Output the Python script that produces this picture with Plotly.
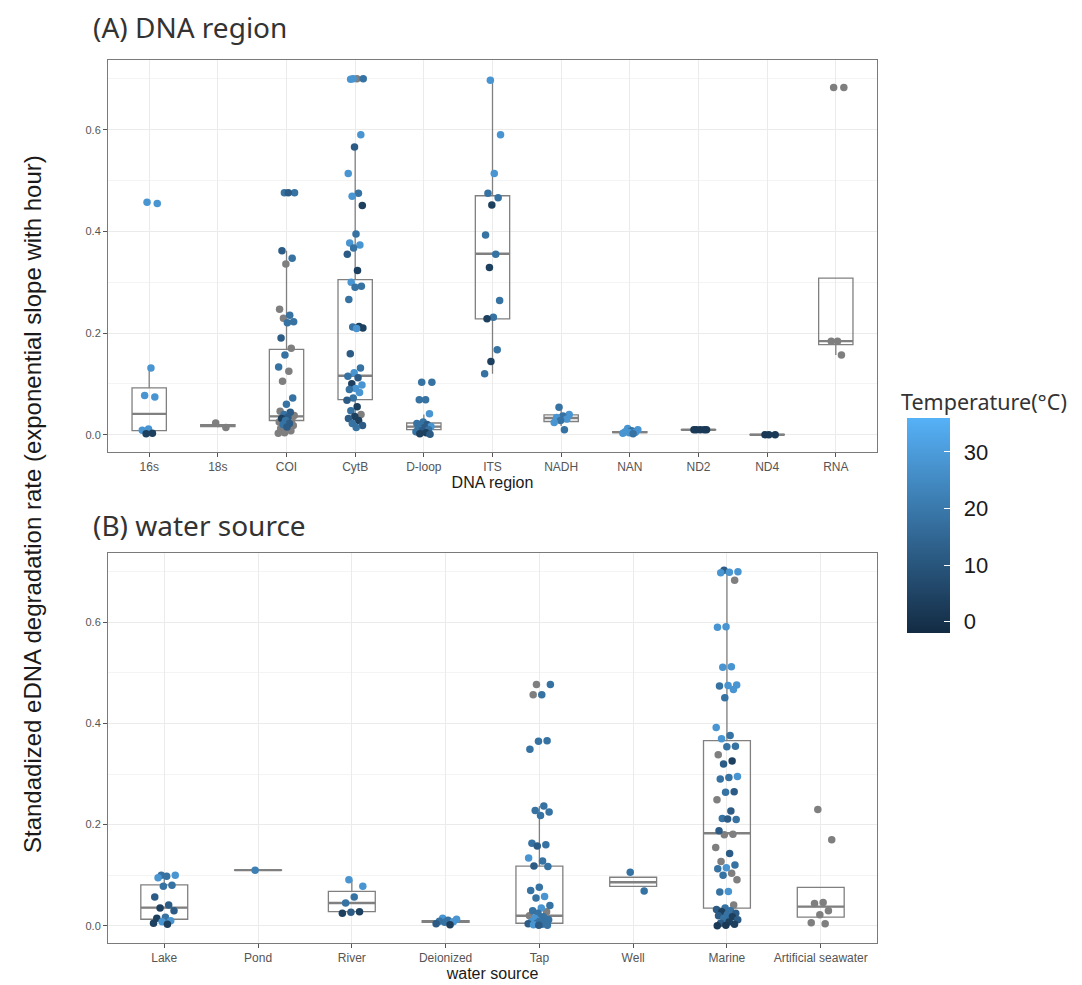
import plotly.graph_objects as go

# ---------------- DATA ----------------
# Panel A: DNA region
dna_categories = ["16s", "18s", "COI", "CytB", "D-loop", "ITS", "NADH", "NAN", "ND2", "ND4", "RNA"]
dna_q1 = [0.008, 0.016, 0.028, 0.069, 0.010, 0.228, 0.026, 0.004, 0.0095, -0.0005, 0.177]
dna_median = [0.041, 0.018, 0.036, 0.116, 0.016, 0.356, 0.033, 0.005, 0.0098, 0.000, 0.184]
dna_q3 = [0.092, 0.020, 0.168, 0.305, 0.023, 0.470, 0.039, 0.006, 0.0101, 0.0005, 0.308]
dna_lower = [0.003, 0.014, 0.003, 0.014, 0.001, 0.120, 0.017, 0.002, 0.0095, -0.0005, 0.157]
dna_upper = [0.131, 0.023, 0.362, 0.566, 0.040, 0.697, 0.050, 0.008, 0.0101, 0.0005, 0.308]

# points (category, value, temperature in °C; None = not reported)
dna_pt_cat = (["16s"] * 9 + ["18s"] * 2 + ["COI"] * 36 + ["CytB"] * 45 + ["D-loop"] * 18
              + ["ITS"] * 15 + ["NADH"] * 8 + ["NAN"] * 8 + ["ND2"] * 5 + ["ND4"] * 3 + ["RNA"] * 5)
dna_pt_val = [
    # 16s
    0.457, 0.455, 0.131, 0.077, 0.074, 0.011, 0.009, 0.003, 0.002,
    # 18s
    0.023, 0.014,
    # COI
    0.476, 0.476, 0.476, 0.362, 0.347, 0.336, 0.247, 0.235, 0.229, 0.222, 0.220, 0.190,
    0.170, 0.157, 0.133, 0.125, 0.105, 0.072, 0.060, 0.046, 0.044, 0.040, 0.038, 0.035,
    0.032, 0.030, 0.028, 0.025, 0.022, 0.020, 0.018, 0.015, 0.012, 0.008, 0.004, 0.003,
    # CytB
    0.700, 0.700, 0.700, 0.699, 0.590, 0.566, 0.514, 0.475, 0.469, 0.451, 0.395, 0.377,
    0.373, 0.367, 0.355, 0.323, 0.300, 0.292, 0.290, 0.266, 0.213, 0.212, 0.210, 0.209,
    0.159, 0.131, 0.122, 0.115, 0.112, 0.100, 0.098, 0.091, 0.089, 0.083, 0.072, 0.068,
    0.055, 0.047, 0.040, 0.036, 0.032, 0.028, 0.022, 0.018, 0.014,
    # D-loop
    0.103, 0.103, 0.069, 0.069, 0.041, 0.025, 0.022, 0.020, 0.018, 0.016, 0.014, 0.012,
    0.010, 0.008, 0.006, 0.004, 0.002, 0.001,
    # ITS
    0.697, 0.590, 0.514, 0.475, 0.466, 0.452, 0.393, 0.355, 0.329, 0.264, 0.231, 0.228,
    0.167, 0.144, 0.120,
    # NADH
    0.054, 0.040, 0.037, 0.034, 0.031, 0.028, 0.024, 0.010,
    # NAN
    0.012, 0.010, 0.008, 0.006, 0.005, 0.004, 0.003, 0.002,
    # ND2
    0.0098, 0.0098, 0.0100, 0.0098, 0.0099,
    # ND4
    0.000, 0.000, 0.000,
    # RNA
    0.683, 0.683, 0.184, 0.184, 0.157,
]
dna_pt_temp = [
    # 16s
    28, 28, 28, 28, 28, 28, 28, 4, 4,
    # 18s
    None, None,
    # COI
    18, 18, 12, 12, 18, None, None, 18, None, 18, 18, 12,
    None, 18, 18, None, None, 18, 18, None, 12, 18, None, 12,
    4, None, 18, None, 12, 18, None, 12, None, None, None, None,
    # CytB
    28, 18, None, 28, 28, 12, 28, 18, 28, 4, 18, 28,
    28, 18, 12, 4, 28, 18, 18, 18, 4, 18, 4, 28,
    12, 18, 28, 18, 12, 4, 28, 28, 18, 28, 18, 12,
    4, 18, None, 4, 12, 4, 18, 12, 18,
    # D-loop
    18, 18, 18, 18, 28, 18, 18, 12, 18, 28, 12, 18,
    18, 12, 18, 4, 4, 12,
    # ITS
    28, 28, 28, 18, 18, 4, 18, 18, 4, 18, 18, 4,
    18, 4, 18,
    # NADH
    18, 28, 18, 28, 28, 18, 28, 18,
    # NAN
    28, 28, 18, 28, 28, 28, 28, 18,
    # ND2
    2, 2, 2, 2, 2,
    # ND4
    2, 2, 2,
    # RNA
    None, None, None, None, None,
]

# Panel B: water source
water_categories = ["Lake", "Pond", "River", "Deionized", "Tap", "Well", "Marine", "Artificial seawater"]
water_q1 = [0.013, 0.1095, 0.028, 0.007, 0.005, 0.078, 0.035, 0.017]
water_median = [0.036, 0.110, 0.045, 0.009, 0.020, 0.086, 0.183, 0.038]
water_q3 = [0.081, 0.1105, 0.068, 0.010, 0.118, 0.096, 0.366, 0.076]
water_lower = [0.003, 0.1095, 0.025, 0.007, 0.001, 0.078, 0.000, 0.017]
water_upper = [0.100, 0.1105, 0.091, 0.010, 0.237, 0.096, 0.703, 0.076]

water_pt_cat = (["Lake"] * 16 + ["Pond"] * 1 + ["River"] * 7 + ["Deionized"] * 8 + ["Tap"] * 40
                + ["Well"] * 2 + ["Marine"] * 62 + ["Artificial seawater"] * 8)
water_pt_val = [
    # Lake
    0.100, 0.100, 0.098, 0.095, 0.080, 0.078, 0.057, 0.041, 0.035, 0.030, 0.017, 0.015,
    0.010, 0.008, 0.005, 0.003,
    # Pond
    0.110,
    # River
    0.091, 0.078, 0.057, 0.045, 0.028, 0.027, 0.025,
    # Deionized
    0.015, 0.013, 0.011, 0.009, 0.008, 0.007, 0.004, 0.002,
    # Tap
    0.477, 0.477, 0.457, 0.457, 0.366, 0.365, 0.349, 0.237, 0.228, 0.225, 0.218, 0.163,
    0.160, 0.158, 0.134, 0.128, 0.118, 0.117, 0.076, 0.070, 0.058, 0.055, 0.040, 0.035,
    0.030, 0.028, 0.025, 0.020, 0.018, 0.015, 0.012, 0.010, 0.008, 0.006, 0.005, 0.004,
    0.003, 0.002, 0.001, 0.001,
    # Well
    0.106, 0.069,
    # Marine
    0.703, 0.700, 0.699, 0.698, 0.683, 0.591, 0.590, 0.512, 0.511, 0.476, 0.475, 0.474,
    0.467, 0.451, 0.392, 0.376, 0.370, 0.355, 0.354, 0.338, 0.326, 0.320, 0.295, 0.293,
    0.290, 0.265, 0.264, 0.249, 0.227, 0.212, 0.210, 0.211, 0.188, 0.181, 0.180, 0.155,
    0.143, 0.127, 0.120, 0.115, 0.113, 0.104, 0.100, 0.091, 0.068, 0.067, 0.041, 0.035,
    0.032, 0.030, 0.028, 0.025, 0.022, 0.020, 0.018, 0.015, 0.012, 0.008, 0.005, 0.003,
    0.001, 0.000,
    # Artificial seawater
    0.230, 0.170, 0.046, 0.044, 0.030, 0.022, 0.006, 0.004,
]
water_pt_temp = [
    # Lake
    18, 28, 18, 28, 18, 18, 12, 12, 4, 12, 18, 4,
    28, 28, 4, 4,
    # Pond
    22,
    # River
    28, 28, 18, 18, 4, 12, 4,
    # Deionized
    28, 28, 18, 18, 28, 18, 12, 4,
    # Tap
    None, 18, 18, None, 18, 18, 18, 18, 18, 18, 18, 18,
    18, 12, 28, 18, 12, 18, 18, 18, 28, 18, 18, 28,
    18, None, 18, None, 18, 28, 18, 18, 28, 18, 18, 12,
    18, 28, 18, 12,
    # Well
    18, 18,
    # Marine
    12, 28, 28, 28, None, 28, 28, 28, 28, 28, 28, 18,
    28, 18, 28, 18, 28, 18, 18, None, 4, 12, 28, 18,
    18, 12, 18, None, 12, 18, 18, 12, 12, None, None, None,
    12, None, 18, 28, 18, None, 18, None, 28, 18, None, 18,
    12, 18, 4, 12, 18, 12, 4, 18, 12, 4, 12, 4,
    2, 2,
    # Artificial seawater
    None, None, None, None, None, None, None, None,
]

temp_ticks = [0, 10, 20, 30]

# ---------------- STYLE / LAYOUT ----------------
FONT = "Liberation Sans, Arial, sans-serif"
TITLE_FONT = "Noto Sans, sans-serif"
GRAY_PT = "#7f7f7f"
BOX_LINE = "#808080"
PAGE_OFF = 8            # default body margin of the html page
W, H = 1082 - PAGE_OFF, 985 - PAGE_OFF


def px(xp):   # page pixel x -> paper fraction
    return (xp - PAGE_OFF) / W


def py(yp):   # page pixel y -> paper fraction
    return 1 - (yp - PAGE_OFF) / H


fig = go.Figure()


def jitter(n, width=0.12):
    # deterministic low-discrepancy horizontal jitter (like geom_jitter)
    g = 0.6180339887
    return [((k * g + 0.37) % 1.0 - 0.5) * 2 * width for k in range(n)]


def add_panel(cats, q1, med, q3, lo, hi, pcat, pval, ptemp, xa, ya):
    idx = {c: i for i, c in enumerate(cats)}
    n = len(cats)
    fig.add_trace(go.Box(
        x=list(range(n)), q1=q1, median=med, q3=q3, lowerfence=lo, upperfence=hi,
        boxpoints=False, width=0.5, whiskerwidth=0,
        line=dict(color=BOX_LINE, width=1.3), fillcolor="rgba(0,0,0,0)",
        xaxis=xa, yaxis=ya, showlegend=False, hoverinfo="skip"))
    # thicker median segments (ggplot fatten)
    mx, my = [], []
    for i, m in enumerate(med):
        mx += [i - 0.25, i + 0.25, None]
        my += [m, m, None]
    fig.add_trace(go.Scatter(x=mx, y=my, mode="lines", line=dict(color=BOX_LINE, width=2.4),
                             xaxis=xa, yaxis=ya, showlegend=False, hoverinfo="skip"))
    # jittered points
    counts = {}
    for c in pcat:
        counts[c] = counts.get(c, 0) + 1
    offs = {c: jitter(k) for c, k in counts.items()}
    used = {c: 0 for c in counts}
    xs = []
    for c in pcat:
        xs.append(idx[c] + offs[c][used[c]])
        used[c] += 1
    gx = [x for x, t in zip(xs, ptemp) if t is None]
    gy = [v for v, t in zip(pval, ptemp) if t is None]
    cx = [x for x, t in zip(xs, ptemp) if t is not None]
    cy = [v for v, t in zip(pval, ptemp) if t is not None]
    ct = [t for t in ptemp if t is not None]
    fig.add_trace(go.Scatter(x=gx, y=gy, mode="markers",
                             marker=dict(color=GRAY_PT, size=7.5, line=dict(width=0)),
                             xaxis=xa, yaxis=ya, showlegend=False))
    fig.add_trace(go.Scatter(x=cx, y=cy, mode="markers",
                             marker=dict(color=ct, coloraxis="coloraxis", size=7.5, line=dict(width=0)),
                             xaxis=xa, yaxis=ya, showlegend=False))


add_panel(dna_categories, dna_q1, dna_median, dna_q3, dna_lower, dna_upper,
          dna_pt_cat, dna_pt_val, dna_pt_temp, "x", "y")
add_panel(water_categories, water_q1, water_median, water_q3, water_lower, water_upper,
          water_pt_cat, water_pt_val, water_pt_temp, "x2", "y2")

xdom = [px(108), px(877)]
ydom_top = [py(452), py(60)]
ydom_bot = [py(943), py(553)]


def xaxis_style(cats, dom, anchor, title):
    return dict(domain=dom, anchor=anchor, range=[-0.6, len(cats) - 0.4], automargin=False,
                tickmode="array", tickvals=list(range(len(cats))), ticktext=cats,
                showgrid=True, gridcolor="#ebebeb", gridwidth=1, zeroline=False,
                showline=True, mirror=True, linecolor="#7a7a7a", linewidth=1,
                ticks="outside", ticklen=4, tickcolor="#555", tickwidth=1,
                tickfont=dict(family=FONT, size=12, color="#555555"),
                title=dict(text=title, font=dict(family=FONT, size=16, color="#1a1a1a"), standoff=2))


def yaxis_style(dom, anchor):
    return dict(domain=dom, anchor=anchor, range=[-0.034, 0.737], automargin=False,
                tickmode="array", tickvals=[0.0, 0.2, 0.4, 0.6], ticktext=["0.0", "0.2", "0.4", "0.6"],
                showgrid=True, gridcolor="#ebebeb", gridwidth=1, zeroline=False,
                minor=dict(tickmode="array", tickvals=[0.1, 0.3, 0.5, 0.7], showgrid=True,
                           gridcolor="#f4f4f4", gridwidth=1),
                showline=True, mirror=True, linecolor="#7a7a7a", linewidth=1,
                ticks="outside", ticklen=4, tickcolor="#555", tickwidth=1,
                tickfont=dict(family=FONT, size=11, color="#555555"))


fig.update_layout(
    width=W, height=H, autosize=False,
    margin=dict(l=0, r=0, t=0, b=0),
    paper_bgcolor="white", plot_bgcolor="white",
    font=dict(family=FONT),
    xaxis=xaxis_style(dna_categories, xdom, "y", "DNA region"),
    yaxis=yaxis_style(ydom_top, "x"),
    xaxis2=xaxis_style(water_categories, xdom, "y2", "water source"),
    yaxis2=yaxis_style(ydom_bot, "x2"),
    coloraxis=dict(
        cmin=-2, cmax=36,
        colorscale=[[0, "#132B43"], [1, "#56B1F7"]],
        colorbar=dict(
            x=px(907), xanchor="left", xpad=0,
            y=py(525.5), yanchor="middle", ypad=0,
            len=215, lenmode="pixels", thickness=43, thicknessmode="pixels",
            outlinewidth=0,
            tickmode="array", tickvals=temp_ticks,
            ticktext=["\u2009\u2009" + str(t) for t in temp_ticks],
            ticks="inside", ticklen=6, tickcolor="white", tickwidth=1,
            tickfont=dict(family=FONT, size=22, color="#1a1a1a"),
        ),
    ),
    annotations=[
        dict(text="(A) DNA region", x=px(91), y=py(27), xref="paper", yref="paper",
             xanchor="left", yanchor="middle", showarrow=False,
             font=dict(family=TITLE_FONT, size=28, color="#333333")),
        dict(text="(B) water source", x=px(91), y=py(525), xref="paper", yref="paper",
             xanchor="left", yanchor="middle", showarrow=False,
             font=dict(family=TITLE_FONT, size=28, color="#333333")),
        dict(text="Temperature(°C)", x=px(899), y=py(401), xref="paper", yref="paper",
             xanchor="left", yanchor="middle", showarrow=False,
             font=dict(family=TITLE_FONT, size=21.5, color="#333333")),
        dict(text="Standadized eDNA degradation rate (exponential slope with hour)",
             x=px(33), y=py(504), xref="paper", yref="paper",
             xanchor="center", yanchor="middle", textangle=-90, showarrow=False,
             font=dict(family=FONT, size=24, color="#1a1a1a")),
    ],
)

fig.write_html("out.html")
